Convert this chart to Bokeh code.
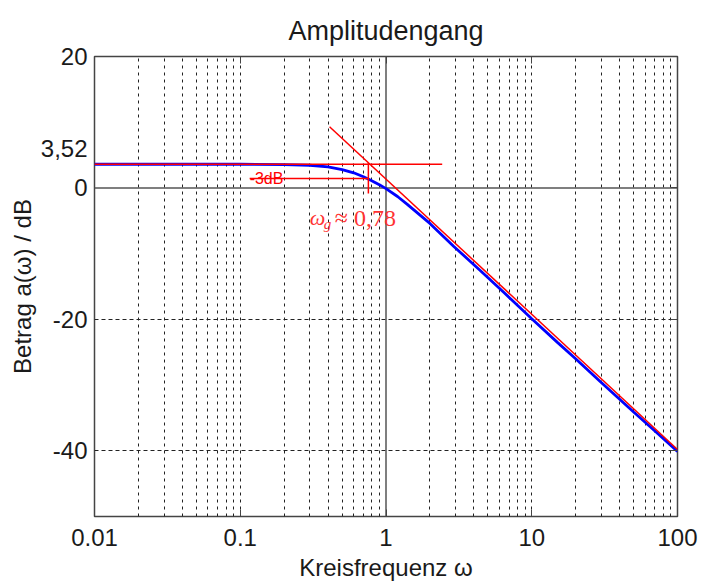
import math
from bokeh.plotting import figure
from bokeh.models import FixedTicker, CustomJSTickFormatter, LogAxis, LinearAxis, Span, Label
from bokeh.embed import file_html
from bokeh.resources import INLINE

# ---- data ----
w_meas = [0.01, 0.05, 0.1, 0.2, 0.3, 0.4, 0.5, 0.6, 0.7, 0.78, 0.9, 1.0, 1.2, 1.4, 2.0, 2.92,
          4.45, 6.5, 10, 15, 20, 29.6, 50, 70, 100]
a_meas = [3.6, 3.6, 3.6, 3.55, 3.45, 3.2, 2.8, 2.3, 1.7, 1.2, 0.5, -0.1, -1.3, -2.5, -5.4, -8.9,
          -12.6, -16.0, -19.9, -23.5, -26.0, -29.5, -34.1, -37.0, -40.1]

flat_w = [0.01, 2.43]
flat_a = [3.6, 3.6]
slope_w = [0.41, 100]
slope_a = [9.3, -39.8]
m3db_w = [0.116, 0.757]
m3db_a = [1.45, 1.45]
wg_w = [0.757, 0.757]
wg_a = [3.8, -0.85]

x_major = [0.01, 0.1, 1, 10, 100]
y_major = [20, 3.52, 0, -20, -40]
y_ticks_frame = [20, 0, -20, -40]
y_grid = [-20, -40]
decades = [0.01, 0.1, 1, 10]
mult = [1, 2, 3, 4, 5, 6, 7, 8, 9]

FONT = "Liberation Sans"
TXT = "#1a1a1a"

p = figure(width=701, height=583, x_axis_type="log", x_range=(0.01, 100), y_range=(-50, 20),
           output_backend="svg", toolbar_location=None, title="Amplitudengang",
           min_border_left=94, min_border_right=24, min_border_top=56, min_border_bottom=66)

p.title.text_font = FONT
p.title.text_font_size = "27px"
p.title.text_font_style = "normal"
p.title.text_color = TXT
p.title.align = "center"
p.title.standoff = 21

p.outline_line_color = "#444444"
p.outline_line_width = 1.5
p.background_fill_color = "white"
p.border_fill_color = "white"

fmt = CustomJSTickFormatter(code="if (Math.abs(tick - 3.52) < 1e-6) { return '3,52\\n '; } return tick.toString();")
empty = CustomJSTickFormatter(code="return '';")

p.xaxis.ticker = FixedTicker(ticks=x_major)
p.xaxis.formatter = fmt
p.yaxis.ticker = FixedTicker(ticks=y_major)
p.yaxis.formatter = fmt
for ax in (p.xaxis[0], p.yaxis[0]):
    ax.axis_line_color = None
    ax.major_tick_in = 7
    ax.major_tick_out = 0
    ax.major_tick_line_color = "#444444"
    ax.minor_tick_line_color = None
    ax.major_label_text_font = FONT
    ax.major_label_text_font_size = "24px"
    ax.major_label_text_color = TXT
    ax.axis_label_text_font = FONT
    ax.axis_label_text_font_size = "24px"
    ax.axis_label_text_font_style = "normal"
    ax.axis_label_text_color = TXT
p.yaxis.major_tick_line_color = None
p.xaxis.major_label_standoff = 12
p.yaxis.major_label_standoff = 7
p.xaxis.axis_label = "Kreisfrequenz ω"
p.xaxis.axis_label_standoff = 5
p.yaxis.axis_label = "Betrag a(ω) / dB"
p.yaxis.axis_label_standoff = 2

top = LogAxis(ticker=FixedTicker(ticks=x_major), formatter=empty)
right = LinearAxis(ticker=FixedTicker(ticks=y_ticks_frame), formatter=empty)
for ax in (top, right):
    ax.axis_line_color = None
    ax.major_tick_in = 7
    ax.major_tick_out = 0
    ax.major_tick_line_color = "#444444"
    ax.minor_tick_line_color = None
    ax.major_label_standoff = 0
    ax.major_label_text_font_size = "1px"
p.add_layout(top, "above")
p.add_layout(right, "right")

grid_ticks = [d * m for d in decades for m in mult if d * m not in (0.01, 1)]
p.xgrid.ticker = FixedTicker(ticks=grid_ticks)
p.xgrid.grid_line_color = "#222222"
p.xgrid.grid_line_dash = "3 4"
p.xgrid.grid_line_width = 1
p.ygrid.ticker = FixedTicker(ticks=y_grid)
p.ygrid.grid_line_color = "#222222"
p.ygrid.grid_line_dash = "4 3"
p.ygrid.grid_line_width = 1

p.add_layout(Span(location=1, dimension="height", line_color="#555555", line_width=1.5, level="underlay"))
p.add_layout(Span(location=0, dimension="width", line_color="#555555", line_width=1.5, level="underlay"))

# measured curve
p.line(w_meas, a_meas, line_color="#0000ff", line_width=2.8)
# red construction lines
p.line(flat_w, flat_a, line_color="#ff0000", line_width=1.5)
p.line(slope_w, slope_a, line_color="#ff0000", line_width=1.5)
p.line(m3db_w, m3db_a, line_color="#ff0000", line_width=1.5)
p.line(wg_w, wg_a, line_color="#ff0000", line_width=1.5)

# annotations inside the frame
p.add_layout(Label(x=0.116, y=1.45, text="-3dB", text_align="left", text_baseline="alphabetic",
                   text_font=FONT, text_font_size="16px", text_color="#ff0000"))
p.add_layout(Label(x=0.30, y=-4.5, text="ω", text_align="left", text_baseline="middle",
                   text_font="Liberation Serif", text_font_style="italic", text_font_size="22px",
                   text_color="#ff3333"))
p.add_layout(Label(x=0.30, y=-4.5, x_offset=14, y_offset=-6, text="g", text_align="left",
                   text_baseline="middle", text_font="Liberation Serif", text_font_style="italic",
                   text_font_size="15px", text_color="#ff3333"))
p.add_layout(Label(x=0.30, y=-4.5, x_offset=25, text="≈ 0,78", text_align="left",
                   text_baseline="middle", text_font="Liberation Serif", text_font_size="24px",
                   text_color="#ff3333"))

open("out.html", "w").write(file_html(p, INLINE))
